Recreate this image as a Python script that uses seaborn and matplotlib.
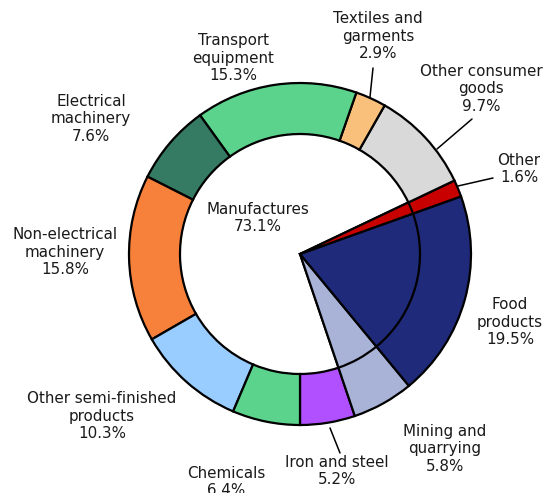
import matplotlib
matplotlib.use("Agg")
import matplotlib.pyplot as plt
import seaborn as sns

# Export shares (%), listed counter-clockwise starting from the bottom of the ring
sectors = ["Iron and steel", "Mining and quarrying", "Food products", "Other",
           "Other consumer goods", "Textiles and garments", "Transport equipment",
           "Electrical machinery", "Non-electrical machinery",
           "Other semi-finished products", "Chemicals"]
shares = [5.2, 5.8, 19.5, 1.6, 9.7, 2.9, 15.3, 7.6, 15.8, 10.3, 6.4]
is_manufacture = [True, False, False, False, True, True, True, True, True, True, True]
colors = ["#B150FF", "#A9B3D8", "#1F2A7A", "#C80000", "#D9D9D9", "#F9C07C",
          "#5CD38D", "#357A62", "#F7803A", "#99CCFF", "#5CD38D"]

labels = ["Iron and steel\n5.2%", "Mining and\nquarrying\n5.8%", "Food\nproducts\n19.5%",
          "Other\n1.6%", "Other consumer\ngoods\n9.7%", "Textiles and\ngarments\n2.9%",
          "Transport\nequipment\n15.3%", "Electrical\nmachinery\n7.6%",
          "Non-electrical\nmachinery\n15.8%", "Other semi-finished\nproducts\n10.3%",
          "Chemicals\n6.4%"]
manufactures_label = "Manufactures\n73.1%"

sns.set_theme(style="white")
plt.rcParams["font.family"] = ["DejaVu Sans"]

W, H = 549, 493
fig = plt.figure(figsize=(W / 100, H / 100), dpi=100)
ax = fig.add_axes([0, 0, 1, 1])

cx, cy = 300, H - 254
r_out, r_in = 171, 120
edge = dict(edgecolor="black", linewidth=1.6)

outer, _ = ax.pie(shares, radius=r_out, center=(cx, cy), startangle=-90,
                  counterclock=True, colors=colors, wedgeprops=edge)
for w, m in zip(outer, is_manufacture):
    if m:
        w.set_width(r_out - r_in)

inner, _ = ax.pie(shares, radius=r_in, center=(cx, cy), startangle=-90,
                  counterclock=True, colors=colors, wedgeprops=edge)
for w, m in zip(inner, is_manufacture):
    if m:
        w.set_visible(False)

ax.set_xlim(0, W)
ax.set_ylim(0, H)
ax.set_aspect("equal")
ax.axis("off")

# label anchors (centre of each text block)
label_pos = {
    "Iron and steel": (337, 471),
    "Mining and quarrying": (445, 449),
    "Food products": (510, 322),
    "Other": (519, 169),
    "Other consumer goods": (481, 89),
    "Textiles and garments": (378, 36),
    "Transport equipment": (233, 58),
    "Electrical machinery": (91, 119),
    "Non-electrical machinery": (65, 252),
    "Other semi-finished products": (102, 416),
    "Chemicals": (226, 482),
}
txt = dict(ha="center", va="center", fontsize=10.9, color="#1a1a1a", linespacing=1.24)
for name, lab in zip(sectors, labels):
    x, y = label_pos[name]
    ax.text(x, H - y, lab, **txt)
ax.text(258, H - 218, manufactures_label, **txt)

# leader lines for the narrow slices
leaders = [((373, 68), (370, 97)), ((472, 119), (437, 149)),
           ((493, 178), (458, 186)), ((330, 428), (340, 453))]
for (x0, y0), (x1, y1) in leaders:
    ax.plot([x0, x1], [H - y0, H - y1], color="black", linewidth=1.1)

fig.savefig("out.png", dpi=100)
